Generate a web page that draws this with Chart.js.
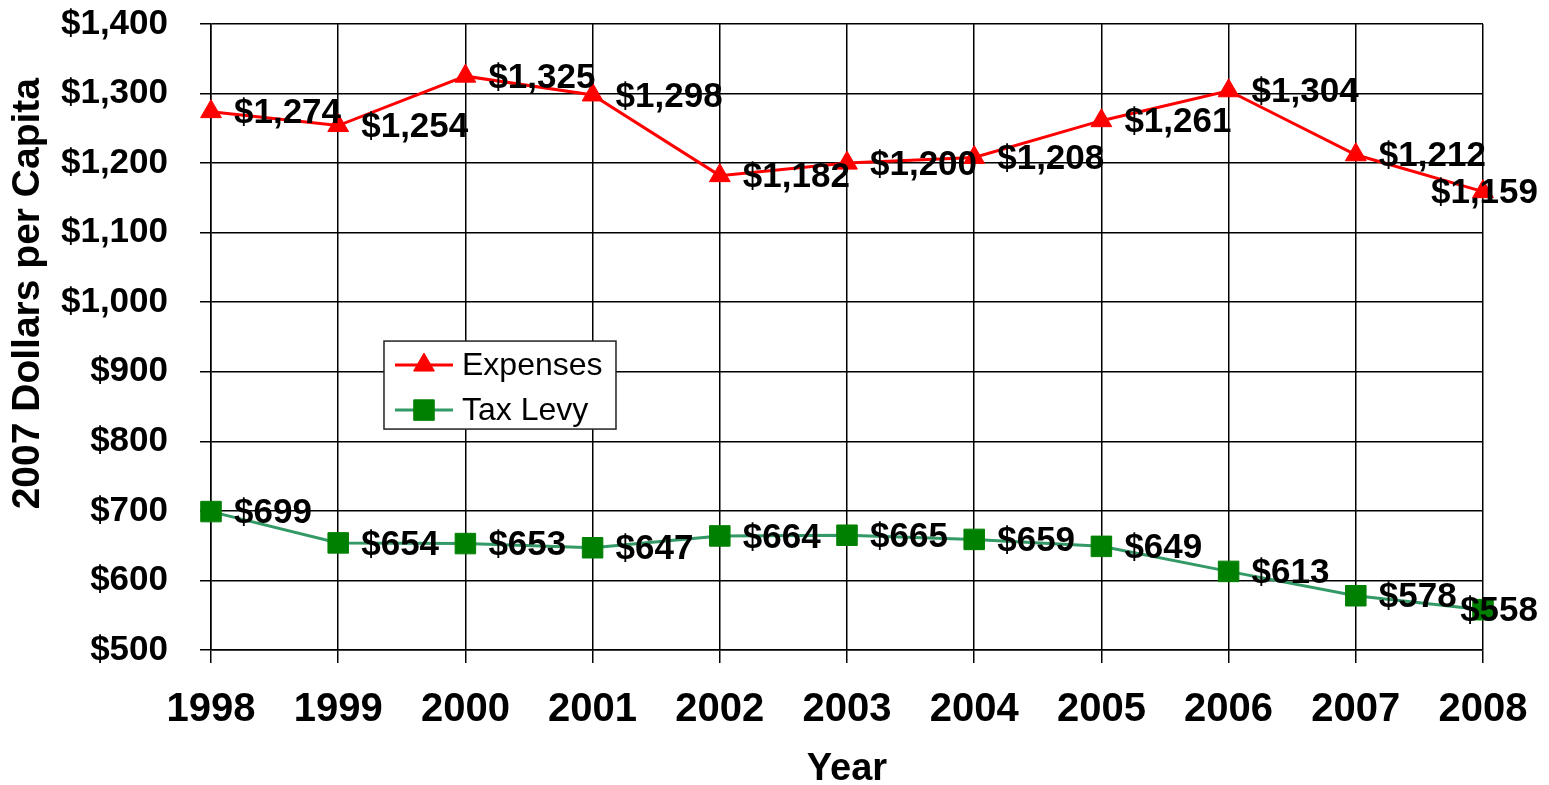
<!DOCTYPE html>
<html>
<head>
<meta charset="utf-8">
<script src="https://cdn.jsdelivr.net/npm/chart.js@4/dist/chart.umd.min.js"></script>
<style>
  html, body { margin: 0; padding: 0; background: #fff; }
  #wrap { width: 1549px; height: 785px; position: relative; }
</style>
</head>
<body>
<div id="wrap"><canvas id="c"></canvas></div>
<script>
const years = ['1998','1999','2000','2001','2002','2003','2004','2005','2006','2007','2008'];
const expenses = [1274, 1254, 1325, 1298, 1182, 1200, 1208, 1261, 1304, 1212, 1159];
const taxLevy = [699, 654, 653, 647, 664, 665, 659, 649, 613, 578, 558];
const seriesNames = ['Expenses', 'Tax Levy'];
const yMin = 500, yMax = 1400, yStep = 100;

const FONT = '"Liberation Sans", Arial, sans-serif';
const money = v => '$' + Number(v).toLocaleString('en-US');

const valueLabels = {
  id: 'valueLabels',
  afterDatasetsDraw(chart) {
    const ctx = chart.ctx;
    ctx.save();
    ctx.font = 'bold 35px ' + FONT;
    ctx.fillStyle = '#000';
    ctx.textBaseline = 'middle';
    ctx.textAlign = 'left';
    chart.data.datasets.forEach((ds, di) => {
      const meta = chart.getDatasetMeta(di);
      meta.data.forEach((pt, i) => {
        const txt = money(ds.data[i]);
        const w = ctx.measureText(txt).width;
        let x = pt.x + 23;
        const limit = chart.width - 11;
        if (x + w > limit) x = limit - w;
        ctx.fillText(txt, x, pt.y + 2);
      });
    });
    ctx.restore();
  }
};

const boxLegend = {
  id: 'boxLegend',
  afterDraw(chart) {
    const ctx = chart.ctx;
    const a = chart.chartArea;
    const left = a.left + (a.right - a.left) * 0.136;
    const top = a.top + (a.bottom - a.top) * 0.5065;
    const w = 232, h = 88;
    ctx.save();
    ctx.fillStyle = '#fff';
    ctx.fillRect(left, top, w, h);
    ctx.strokeStyle = '#222';
    ctx.lineWidth = 1.5;
    ctx.strokeRect(left, top, w, h);
    ctx.font = '32px ' + FONT;
    ctx.textBaseline = 'middle';
    ctx.textAlign = 'left';
    chart.data.datasets.forEach((ds, i) => {
      const cy = top + 24 + i * 45;
      ctx.strokeStyle = ds.borderColor;
      ctx.lineWidth = ds.borderWidth;
      ctx.beginPath();
      ctx.moveTo(left + 11, cy);
      ctx.lineTo(left + 69, cy);
      ctx.stroke();
      const opts = {
        pointStyle: ds.pointStyle,
        radius: ds.pointRadius,
        borderWidth: ds.pointBorderWidth,
        rotation: 0
      };
      ctx.fillStyle = ds.pointBackgroundColor;
      ctx.strokeStyle = ds.pointBorderColor;
      ctx.lineWidth = ds.pointBorderWidth;
      Chart.helpers.drawPoint(ctx, opts, left + 40, cy);
      ctx.fillStyle = '#000';
      ctx.fillText(ds.label, left + 78, cy + 1);
    });
    ctx.restore();
  }
};

new Chart(document.getElementById('c'), {
  type: 'line',
  data: {
    labels: years,
    datasets: [
      {
        label: seriesNames[0],
        data: expenses,
        borderColor: '#ff0000',
        borderWidth: 3,
        pointStyle: 'triangle',
        pointRadius: 12,
        pointHoverRadius: 12,
        pointBackgroundColor: '#ff0000',
        pointBorderColor: '#ff0000',
        pointBorderWidth: 1,
        tension: 0,
        fill: false
      },
      {
        label: seriesNames[1],
        data: taxLevy,
        borderColor: '#339966',
        borderWidth: 3,
        pointStyle: 'rect',
        pointRadius: 14.5,
        pointHoverRadius: 14.5,
        pointBackgroundColor: '#008000',
        pointBorderColor: '#008000',
        pointBorderWidth: 1,
        tension: 0,
        fill: false
      }
    ]
  },
  options: {
    responsive: true,
    maintainAspectRatio: false,
    animation: false,
    layout: { autoPadding: false, padding: { left: 0, top: 24, right: 66, bottom: 0 } },
    plugins: {
      legend: { display: false },
      tooltip: { enabled: false },
      title: { display: false }
    },
    scales: {
      x: {
        type: 'category',
        offset: false,
        grid: { color: '#000', lineWidth: 1.5, tickLength: 13, drawTicks: true },
        border: { color: '#000', width: 1.5 },
        ticks: {
          color: '#000',
          font: { family: FONT, size: 40, weight: 'bold' },
          padding: 23,
          maxRotation: 0,
          autoSkip: false
        },
        title: {
          display: true,
          text: 'Year',
          color: '#000',
          font: { family: FONT, size: 38, weight: 'bold', lineHeight: 0.8 },
          padding: { top: 0, bottom: 0 }
        },
        afterFit(scale) {
          scale.height = 135;
          scale.paddingLeft = 0; scale.paddingRight = 0;
          scale.paddingTop = 0; scale.paddingBottom = 0;
        }
      },
      y: {
        min: yMin,
        max: yMax,
        grid: { color: '#000', lineWidth: 1.5, tickLength: 11, drawTicks: true },
        border: { color: '#000', width: 1.5 },
        ticks: {
          stepSize: yStep,
          color: '#000',
          font: { family: FONT, size: 35, weight: 'bold' },
          padding: 32,
          callback: v => money(v)
        },
        title: {
          display: true,
          text: '        2007 Dollars per Capita',
          color: '#000',
          font: { family: FONT, size: 39, weight: 'bold', lineHeight: 1.2 },
          padding: { top: 5, bottom: 0 }
        },
        afterFit(scale) {
          scale.width = 211;
          scale.paddingTop = 0; scale.paddingBottom = 0;
          scale.paddingLeft = 0; scale.paddingRight = 0;
        }
      }
    }
  },
  plugins: [valueLabels, boxLegend]
});
</script>
</body>
</html>
